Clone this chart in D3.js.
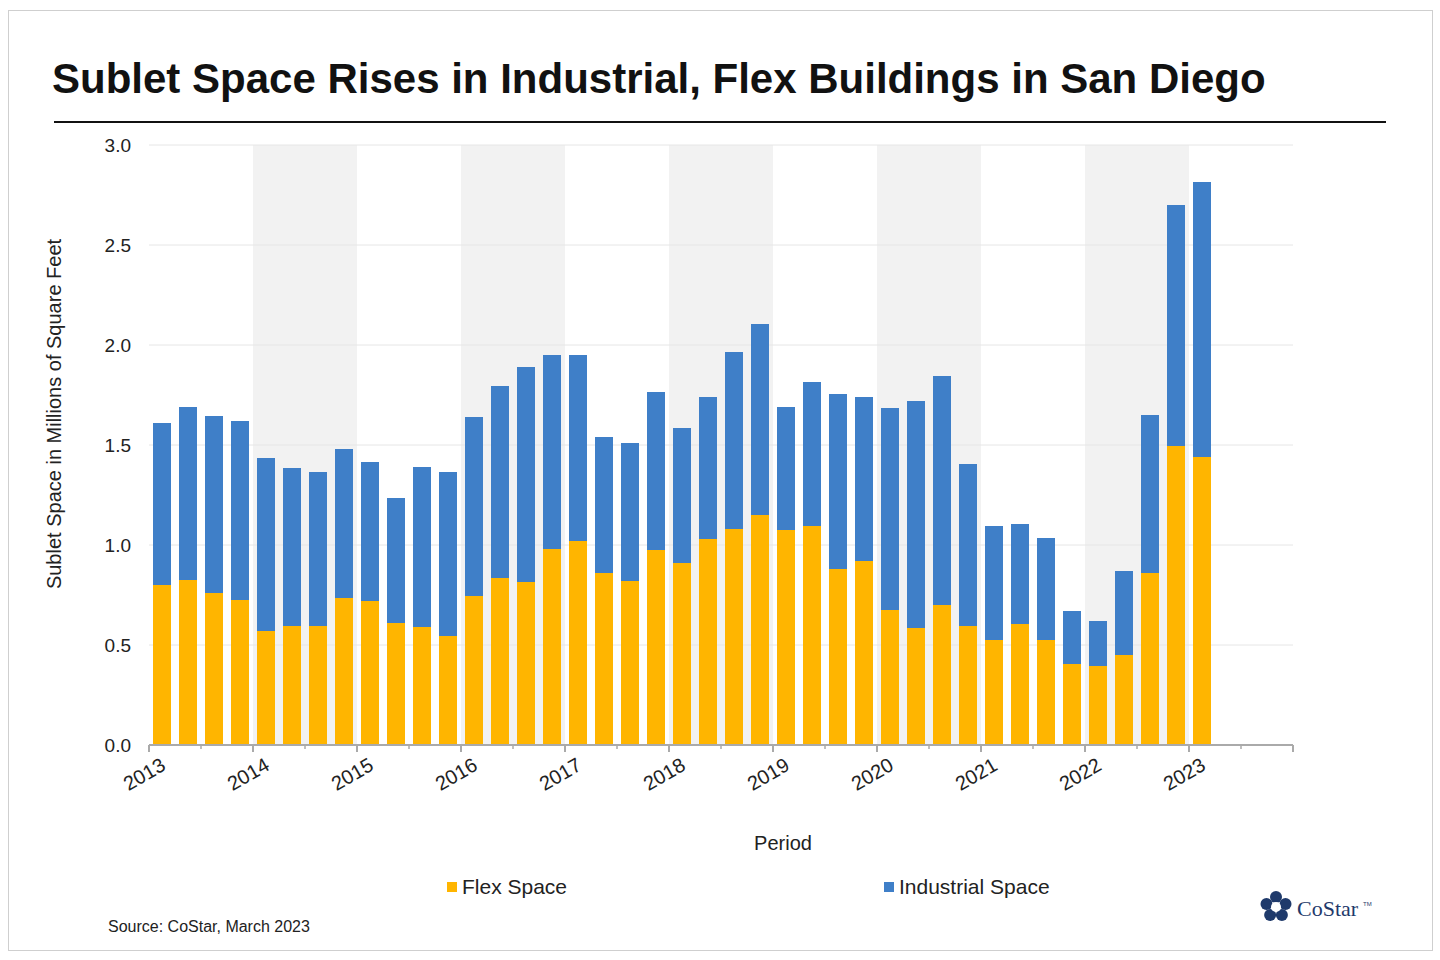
<!DOCTYPE html>
<html>
<head>
<meta charset="utf-8">
<script src="https://cdn.jsdelivr.net/npm/d3@7"></script>
<style>
  body { margin: 0; background: #fff; font-family: Arial, "Liberation Sans", sans-serif; }
</style>
</head>
<body>
<svg id="chart" width="1440" height="960"></svg>
<script>
// Quarterly data, 2013 Q1 .. 2023 Q1 (millions of sq ft)
const periods = d3.range(41).map(i => 2013 + i / 4);
const flex = [0.80, 0.825, 0.76, 0.725, 0.57, 0.595, 0.595, 0.735, 0.72, 0.61, 0.59, 0.545,
  0.745, 0.835, 0.815, 0.98, 1.02, 0.86, 0.82, 0.975, 0.91, 1.03, 1.08, 1.15,
  1.075, 1.095, 0.88, 0.92, 0.675, 0.585, 0.70, 0.595, 0.525, 0.605, 0.525, 0.405,
  0.395, 0.45, 0.86, 1.495, 1.44];
const total = [1.61, 1.69, 1.645, 1.62, 1.435, 1.385, 1.365, 1.48, 1.415, 1.235, 1.39, 1.365,
  1.64, 1.795, 1.89, 1.95, 1.95, 1.54, 1.51, 1.765, 1.585, 1.74, 1.965, 2.105,
  1.69, 1.815, 1.755, 1.74, 1.685, 1.72, 1.845, 1.405, 1.095, 1.105, 1.035, 0.67,
  0.62, 0.87, 1.65, 2.70, 2.815];
const industrial = total.map((t, i) => +(t - flex[i]).toFixed(3));
const yTicks = [0, 0.5, 1.0, 1.5, 2.0, 2.5, 3.0];
const years = d3.range(2013, 2024);
const bands = [2014, 2016, 2018, 2020, 2022];

const svg = d3.select('#chart');
svg.append('rect').attr('x', 8.5).attr('y', 10.5).attr('width', 1424).attr('height', 940)
  .attr('fill', 'none').attr('stroke', '#cfcfcf');

svg.append('text').attr('x', 52).attr('y', 93)
  .style('font-size', '42px').style('font-weight', 'bold').attr('fill', '#111')
  .text('Sublet Space Rises in Industrial, Flex Buildings in San Diego');
svg.append('line').attr('x1', 54).attr('x2', 1386).attr('y1', 122).attr('y2', 122)
  .attr('stroke', '#111').attr('stroke-width', 2);

const x = d3.scaleLinear().domain([2013, 2024]).range([149, 1293]);
const y = d3.scaleLinear().domain([0, 3]).range([745, 145]);
const bw = 18;

// alternating year bands
svg.selectAll('.band').data(bands).join('rect')
  .attr('x', d => x(d)).attr('width', d => x(d + 1) - x(d))
  .attr('y', y(3)).attr('height', y(0) - y(3)).attr('fill', '#f2f2f2');

// gridlines
svg.selectAll('.grid').data(yTicks.slice(1)).join('line')
  .attr('x1', x(2013)).attr('x2', x(2024)).attr('y1', d => y(d)).attr('y2', d => y(d))
  .attr('stroke', '#e6e6e6');

const cx = i => x(periods[i] + 0.125);
svg.selectAll('.flex').data(flex).join('rect')
  .attr('x', (d, i) => cx(i) - bw / 2).attr('width', bw)
  .attr('y', d => y(d)).attr('height', d => y(0) - y(d)).attr('fill', '#ffb500');
svg.selectAll('.ind').data(industrial).join('rect')
  .attr('x', (d, i) => cx(i) - bw / 2).attr('width', bw)
  .attr('y', (d, i) => y(total[i])).attr('height', (d, i) => y(flex[i]) - y(total[i]))
  .attr('fill', '#3f7fc8');

// y axis labels
svg.selectAll('.ylab').data(yTicks).join('text')
  .attr('x', 131).attr('y', d => y(d) + 7).attr('text-anchor', 'end')
  .style('font-size', '19px').attr('fill', '#222').text(d => d.toFixed(1));

// x axis
const xAxis = svg.append('g');
xAxis.append('line').attr('x1', x(2013)).attr('x2', x(2024)).attr('y1', 745).attr('y2', 745)
  .attr('stroke', '#aaa').attr('stroke-width', 2);
xAxis.selectAll('.maj').data(d3.range(2013, 2025)).join('line')
  .attr('x1', d => x(d)).attr('x2', d => x(d)).attr('y1', 745).attr('y2', 752)
  .attr('stroke', '#aaa').attr('stroke-width', 2);
xAxis.selectAll('.min').data(d3.range(2013.5, 2024, 1)).join('line')
  .attr('x1', d => x(d)).attr('x2', d => x(d)).attr('y1', 745).attr('y2', 749)
  .attr('stroke', '#aaa').attr('stroke-width', 1.5);
xAxis.selectAll('.xlab').data(years).join('text')
  .attr('transform', d => `translate(${x(d) + 18},${769}) rotate(-30)`)
  .attr('text-anchor', 'end').style('font-size', '20px').attr('fill', '#222')
  .text(d => d);

svg.append('text').attr('x', 783).attr('y', 850).attr('text-anchor', 'middle')
  .style('font-size', '20px').attr('fill', '#222').text('Period');
svg.append('text').attr('transform', 'translate(61,414) rotate(-90)').attr('text-anchor', 'middle')
  .style('font-size', '20px').attr('fill', '#222').text('Sublet Space in Millions of Square Feet');

// legend
const legend = [{ name: 'Flex Space', c: '#ffb500', x: 447 }, { name: 'Industrial Space', c: '#3f7fc8', x: 884 }];
const lg = svg.selectAll('.lg').data(legend).join('g');
lg.append('rect').attr('x', d => d.x).attr('y', 882).attr('width', 10).attr('height', 10).attr('fill', d => d.c);
lg.append('text').attr('x', d => d.x + 15).attr('y', 894).style('font-size', '21px').attr('fill', '#222').text(d => d.name);

svg.append('text').attr('x', 108).attr('y', 932).style('font-size', '16px').attr('fill', '#222')
  .text('Source: CoStar, March 2023');

// CoStar logo
const logo = svg.append('g').attr('transform', 'translate(1276,907)');
d3.range(5).forEach(k => {
  const a = k * 72 * Math.PI / 180 - Math.PI / 2;
  logo.append('circle').attr('cx', 10 * Math.cos(a)).attr('cy', 10 * Math.sin(a)).attr('r', 6).attr('fill', '#1f3a6b');
});
logo.append('circle').attr('r', 5).attr('fill', '#fff');
svg.append('text').attr('x', 1297).attr('y', 916).style('font-family', '"Liberation Serif", serif')
  .style('font-size', '22px').attr('fill', '#1f3a6b').text('CoStar');
svg.append('text').attr('x', 1363).attr('y', 906).style('font-size', '6px').attr('fill', '#1f3a6b').text('TM');
</script>
</body>
</html>
